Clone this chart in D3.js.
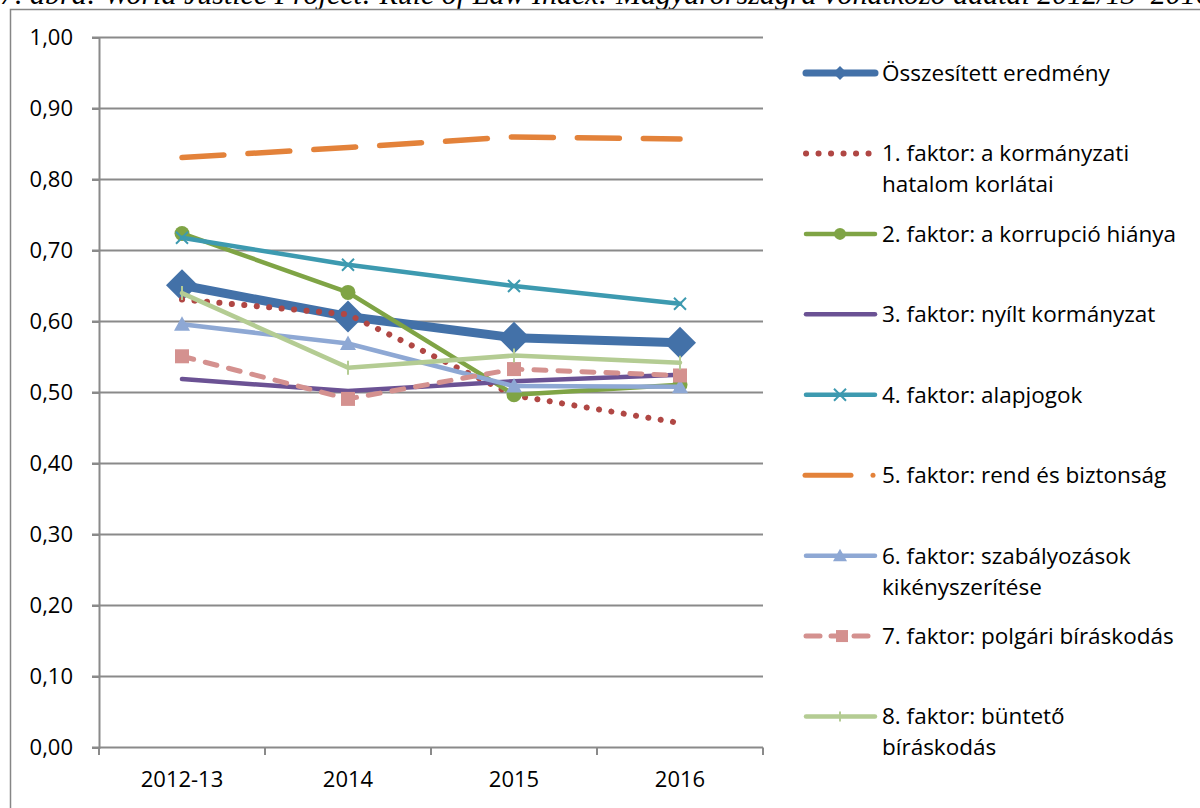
<!DOCTYPE html>
<html>
<head>
<meta charset="utf-8">
<script src="https://cdn.jsdelivr.net/npm/d3@7"></script>
<style>
  body { margin: 0; background: #fff; }
  svg { display: block; }
</style>
</head>
<body>
<div id="chart-container"></div>
<script>
// data
let categories = ["2012-13", "2014", "2015", "2016"];
let seriesNames = [
  ["Összesített eredmény"],
  ["1. faktor: a kormányzati", "hatalom korlátai"],
  ["2. faktor: a korrupció hiánya"],
  ["3. faktor: nyílt kormányzat"],
  ["4. faktor: alapjogok"],
  ["5. faktor: rend és biztonság"],
  ["6. faktor: szabályozások", "kikényszerítése"],
  ["7. faktor: polgári bíráskodás"],
  ["8. faktor: büntető", "bíráskodás"]
];
let overall = [0.651, 0.607, 0.577, 0.570];
let factor1 = [0.631, 0.610, 0.496, 0.457];
let factor2 = [0.724, 0.641, 0.497, 0.511];
let factor3 = [0.519, 0.502, 0.516, 0.525];
let factor4 = [0.718, 0.680, 0.650, 0.625];
let factor5 = [0.831, 0.845, 0.860, 0.857];
let factor6 = [0.596, 0.569, 0.509, 0.508];
let factor7 = [0.551, 0.491, 0.533, 0.524];
let factor8 = [0.640, 0.535, 0.552, 0.542];
let yTicks = [0, 0.1, 0.2, 0.3, 0.4, 0.5, 0.6, 0.7, 0.8, 0.9, 1.0];
let titleText = "7. ábra: World Justice Project: Rule of Law Index: Magyarországra vonatkozó adatai 2012/13–2016";

let allSeries = [overall, factor1, factor2, factor3, factor4, factor5, factor6, factor7, factor8];

// styles for each series
let styles = [
  { color: "#4371a8", width: 9, dash: null, marker: "diamond", size: 16 },
  { color: "#b04744", width: 6, dash: "0.1 12.4", marker: null },
  { color: "#7fa445", width: 4.5, dash: null, marker: "circle", size: 7.5 },
  { color: "#6b5294", width: 4.5, dash: null, marker: null },
  { color: "#3d9ab0", width: 4.5, dash: null, marker: "x", size: 6 },
  { color: "#e3823a", width: 5.5, dash: "42 24", marker: null },
  { color: "#8ea8d4", width: 4.5, dash: null, marker: "triangle", size: 8 },
  { color: "#d4918f", width: 5, dash: "12 12", marker: "square", size: 7 },
  { color: "#b4cc93", width: 4.5, dash: null, marker: "plus", size: 7 }
];

let W = 1200, H = 808;
let fontFam = "'Open Sans', sans-serif";
let svg = d3.select("#chart-container")
  .append("svg")
  .attr("width", W)
  .attr("height", H);

// caption on top, cut by the page edge as in the source
svg.append("text")
  .attr("x", 0)
  .attr("y", 4)
  .text(titleText)
  .style("font-family", "'Liberation Serif', 'Times New Roman', serif")
  .style("font-style", "italic")
  .style("font-size", "30px")
  .style("fill", "#000");

// chart frame
svg.append("rect")
  .attr("x", 10.5)
  .attr("y", 9.5)
  .attr("width", 1300)
  .attr("height", 900)
  .attr("fill", "#fff")
  .attr("stroke", "#868686")
  .attr("stroke-width", 1.5);

let scaleX = d3.scaleBand()
  .domain(categories)
  .range([99, 763]);
let scaleY = d3.scaleLinear()
  .domain([0, 1])
  .range([747.5, 37.5]);

// gridlines
svg.append("g").selectAll("line").data(yTicks).enter().append("line")
  .attr("x1", 92)
  .attr("x2", 763)
  .attr("y1", d => scaleY(d))
  .attr("y2", d => scaleY(d))
  .attr("stroke", "#8a8a8a")
  .attr("stroke-width", 2);

// y axis
let yAxis = svg.append("g")
  .attr("transform", "translate(99,0)")
  .call(d3.axisLeft(scaleY).tickValues(yTicks).tickSize(7).tickFormat(d => d3.format(".2f")(d).replace(".", ",")));
yAxis.select(".domain").attr("stroke", "#8a8a8a").attr("stroke-width", 2);
yAxis.selectAll(".tick line").attr("stroke", "#8a8a8a").attr("stroke-width", 2);
yAxis.selectAll(".tick text")
  .attr("x", -26)
  .style("font-family", fontFam)
  .style("font-size", "22px")
  .style("fill", "#000");

// x axis
let xAxis = svg.append("g")
  .attr("transform", "translate(0,747.5)")
  .call(d3.axisBottom(scaleX).tickSize(0));
xAxis.select(".domain").remove();
xAxis.selectAll(".tick text")
  .attr("y", 24)
  .style("font-family", fontFam)
  .style("font-size", "22px")
  .style("fill", "#000");
let xTickPos = categories.map(d => scaleX(d)).concat([scaleX.range()[1]]);
svg.append("g").selectAll("line").data(xTickPos).enter().append("line")
  .attr("x1", d => d)
  .attr("x2", d => d)
  .attr("y1", 747.5)
  .attr("y2", 755)
  .attr("stroke", "#8a8a8a")
  .attr("stroke-width", 2);

function cx(i) { return scaleX(categories[i]) + scaleX.bandwidth() / 2; }

function drawMarker(g, type, x, y, s, color) {
  if (type === "diamond") {
    g.append("path").attr("d", `M${x},${y - s}L${x + s},${y}L${x},${y + s}L${x - s},${y}Z`).attr("fill", color);
  } else if (type === "circle") {
    g.append("circle").attr("cx", x).attr("cy", y).attr("r", s).attr("fill", color);
  } else if (type === "x") {
    g.append("path").attr("d", `M${x - s},${y - s}L${x + s},${y + s}M${x - s},${y + s}L${x + s},${y - s}`)
      .attr("stroke", color).attr("stroke-width", 2);
  } else if (type === "triangle") {
    g.append("path").attr("d", `M${x},${y - s}L${x + s},${y + s * 0.8}L${x - s},${y + s * 0.8}Z`).attr("fill", color);
  } else if (type === "square") {
    g.append("rect").attr("x", x - s).attr("y", y - s).attr("width", 2 * s).attr("height", 2 * s).attr("fill", color);
  } else if (type === "plus") {
    g.append("path").attr("d", `M${x},${y - s}L${x},${y + s}`)
      .attr("stroke", color).attr("stroke-width", 2);
  }
}

let line = d3.line()
  .x((d, i) => cx(i))
  .y(d => scaleY(d));

// series
allSeries.forEach(function (vals, k) {
  let st = styles[k];
  let g = svg.append("g");
  g.append("path")
    .datum(vals)
    .attr("d", line)
    .attr("fill", "none")
    .attr("stroke", st.color)
    .attr("stroke-width", st.width)
    .attr("stroke-linecap", "round")
    .attr("stroke-linejoin", "round")
    .attr("stroke-dasharray", st.dash);
  if (st.marker) {
    vals.forEach((v, i) => drawMarker(g, st.marker, cx(i), scaleY(v), st.size, st.color));
  }
});

// legend
let legendY = d3.scaleLinear().domain([0, 8]).range([73, 716.5]);
let legend = svg.append("g");
seriesNames.forEach(function (lines, k) {
  let st = styles[k];
  let y = legendY(k);
  let g = legend.append("g");
  if (k === 5) {
    g.append("line").attr("x1", 805).attr("x2", 851).attr("y1", y).attr("y2", y)
      .attr("stroke", st.color).attr("stroke-width", 5).attr("stroke-linecap", "round");
    g.append("circle").attr("cx", 873).attr("cy", y).attr("r", 2.5).attr("fill", st.color);
  } else if (k === 7) {
    g.append("line").attr("x1", 806).attr("x2", 820).attr("y1", y).attr("y2", y)
      .attr("stroke", st.color).attr("stroke-width", 5).attr("stroke-linecap", "round");
    g.append("line").attr("x1", 854).attr("x2", 868).attr("y1", y).attr("y2", y)
      .attr("stroke", st.color).attr("stroke-width", 5).attr("stroke-linecap", "round");
    g.append("line").attr("x1", 831).attr("x2", 838).attr("y1", y).attr("y2", y)
      .attr("stroke", st.color).attr("stroke-width", 5).attr("stroke-linecap", "round");
    drawMarker(g, "square", 842, y, 6, st.color);
  } else {
    g.append("line").attr("x1", 806).attr("x2", 875).attr("y1", y).attr("y2", y)
      .attr("stroke", st.color).attr("stroke-width", k === 0 ? 7 : st.width)
      .attr("stroke-linecap", "round")
      .attr("stroke-dasharray", st.dash);
    if (st.marker) {
      let s = { diamond: 7, circle: 6, x: 6, triangle: 7, square: 6, plus: 5 }[st.marker];
      drawMarker(g, st.marker, 840, y, s, st.color);
    }
  }
  lines.forEach(function (t, j) {
    g.append("text")
      .attr("x", 882)
      .attr("y", y + j * 31)
      .attr("dy", "0.35em")
      .text(t)
      .style("font-family", fontFam)
      .style("font-size", "22.5px")
      .style("fill", "#000");
  });
});
</script>
</body>
</html>
